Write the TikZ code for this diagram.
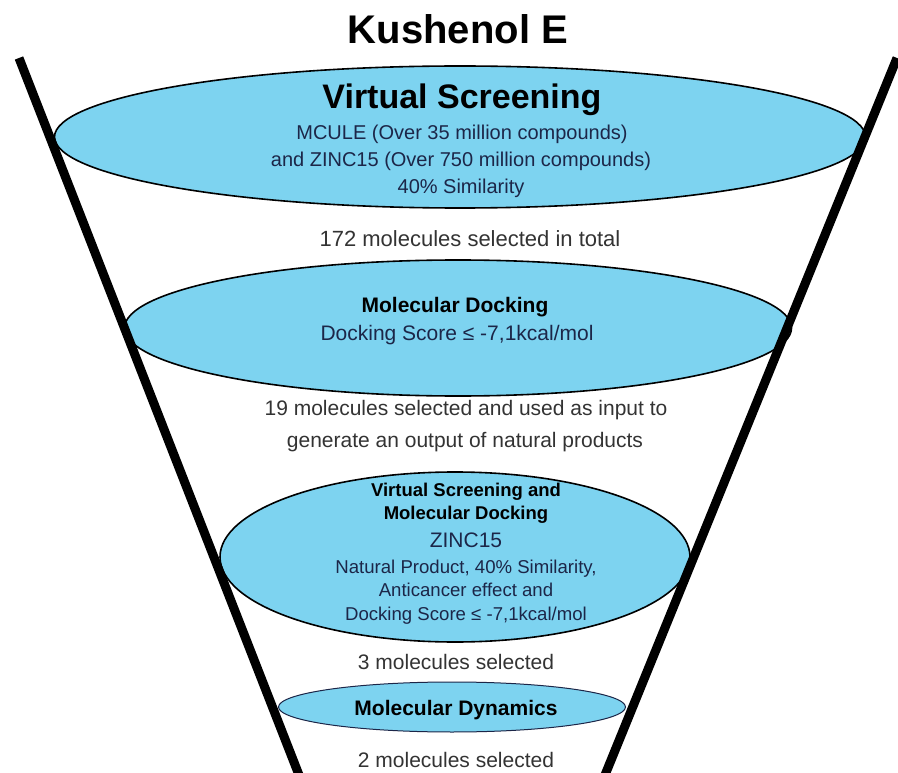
\documentclass[tikz,border=0pt]{standalone}
\usepackage{fontspec}
\setmainfont{Liberation Sans}
\usetikzlibrary{shapes.geometric}
\definecolor{funnelblue}{RGB}{125,211,240}
\definecolor{navytext}{RGB}{28,38,72}
\definecolor{graytext}{RGB}{51,51,51}
\newcommand{\fs}[1]{\fontsize{#1}{#1}\selectfont}
\tikzset{
  stage/.style={ellipse, draw=black, line width=1.6pt, fill=funnelblue, inner sep=0pt},
  txt/.style={anchor=base, inner sep=0pt},
  intxt/.style={txt, text=navytext},
  outtxt/.style={txt, text=graytext},
  headtxt/.style={txt, text=black, font=\bfseries},
  wall/.style={line width=9pt, black}
}
\begin{document}
\begin{tikzpicture}[x=1pt, y=-1pt]
\useasboundingbox (0,0) rectangle (898,773);
% stages
\node[stage, minimum width=811pt, minimum height=142pt] (s1) at (460,137) {};
\node[stage, minimum width=667pt, minimum height=136pt] (s2) at (458,328) {};
\node[stage, minimum width=470pt, minimum height=170pt] (s3) at (455,557) {};
\node[stage, draw=navytext, line width=1pt, minimum width=347pt, minimum height=50pt] (s4) at (452,707) {};
% funnel walls
\coordinate (lt) at (19,58);
\coordinate (lb) at (299,775);
\coordinate (rt) at (897,58);
\coordinate (rb) at (605,775);
\draw[wall] (lt) -- (lb);
\draw[wall] (rt) -- (rb);
% texts
\node[headtxt, font=\bfseries\fs{40}] (title) at (458,44) {Kushenol E};
\node[headtxt, font=\bfseries\fs{34}] (h1) at (462,109) {Virtual Screening};
\node[intxt, font=\fs{20}] (t1a) at (462,140) {MCULE (Over 35 million compounds)};
\node[intxt, font=\fs{20}] (t1b) at (461,167) {and ZINC15 (Over 750 million compounds)};
\node[intxt, font=\fs{20}] (t1c) at (461,194) {40\% Similarity};
\node[outtxt, font=\fs{22}] (o1) at (470,247) {172 molecules selected in total};
\node[headtxt, font=\bfseries\fs{21}] (h2) at (455,312.5) {Molecular Docking};
\node[intxt, font=\fs{21}] (t2) at (457,340.5) {Docking Score ≤ -7,1kcal/mol};
\node[outtxt, font=\fs{21}] (o2a) at (466,415.5) {19 molecules selected and used as input to};
\node[outtxt, font=\fs{21}] (o2b) at (465,447.5) {generate an output of natural products};
\node[headtxt, font=\bfseries\fs{18.5}] (h3a) at (466,496.6) {Virtual Screening and};
\node[headtxt, font=\bfseries\fs{18.5}] (h3b) at (466,519.6) {Molecular Docking};
\node[intxt, font=\fs{21}] (t3a) at (466,547.5) {ZINC15};
\node[intxt, font=\fs{18.6}] (t3b) at (466,573.7) {Natural Product, 40\% Similarity,};
\node[intxt, font=\fs{18.6}] (t3c) at (466,596.7) {Anticancer effect and};
\node[intxt, font=\fs{18.6}] (t3d) at (466,620.7) {Docking Score ≤ -7,1kcal/mol};
\node[outtxt, font=\fs{21}] (o3) at (456,669.5) {3 molecules selected};
\node[headtxt, font=\bfseries\fs{21}] (h4) at (456,715.5) {Molecular Dynamics};
\node[outtxt, font=\fs{21}] (o4) at (456,767) {2 molecules selected};
\end{tikzpicture}
\end{document}
